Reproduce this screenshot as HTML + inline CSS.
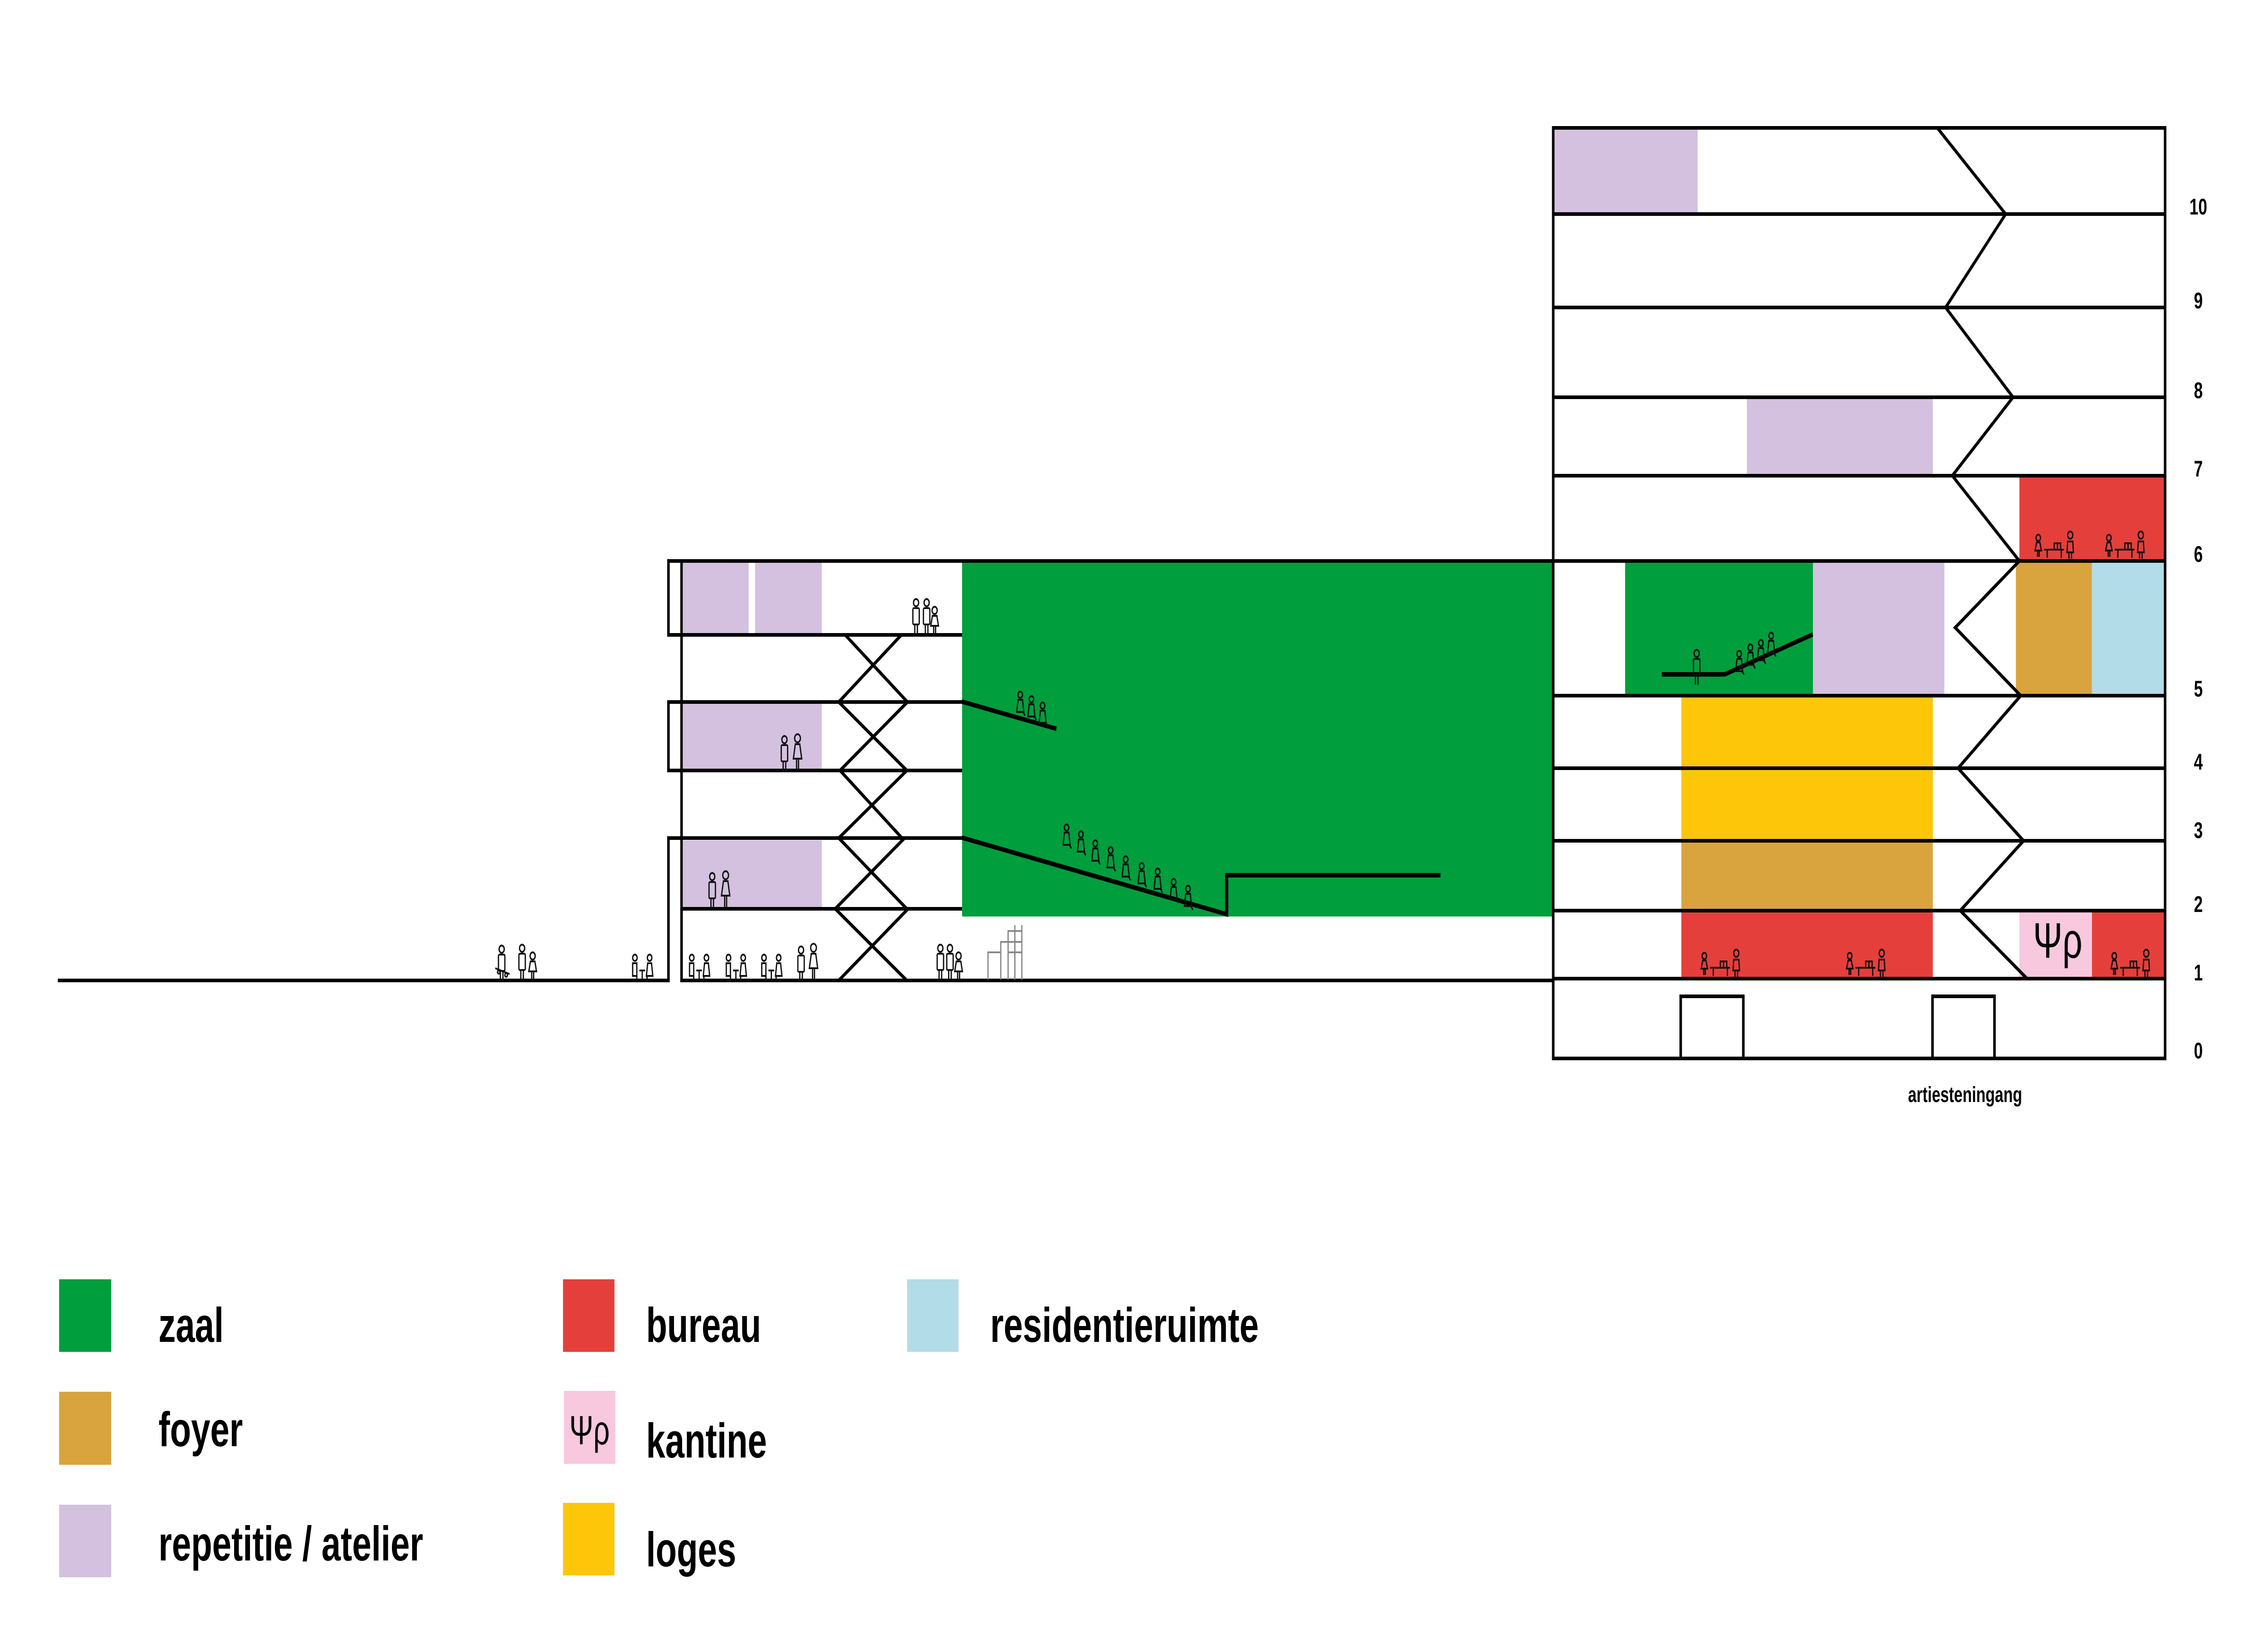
<!DOCTYPE html>
<html><head><meta charset="utf-8"><style>
html,body{margin:0;padding:0;background:#fff;width:100%;height:100%;overflow:hidden;}
svg{display:block;position:fixed;left:0;top:0;width:100vw;height:100vh;}
text{font-family:"Liberation Sans",sans-serif;font-weight:bold;fill:#000;}
</style></head><body>
<svg viewBox="0 0 7098 3623" preserveAspectRatio="none" xmlns="http://www.w3.org/2000/svg">
<defs>
<g id="stand" fill="none" stroke="#111" stroke-width="4">
<circle cx="15" cy="11" r="8"/><rect x="5" y="23" width="20" height="36" rx="3"/><line x1="11" y1="59" x2="11" y2="80"/><line x1="19" y1="59" x2="19" y2="80"/>
</g>
<g id="child" fill="none" stroke="#111" stroke-width="4">
<circle cx="15" cy="28" r="8"/><path d="M8 40 L22 40 L27 62 L3 62 Z"/><line x1="12" y1="62" x2="12" y2="80"/><line x1="18" y1="62" x2="18" y2="80"/>
</g>
<g id="woman" fill="none" stroke="#111" stroke-width="4">
<circle cx="16" cy="10" r="9"/><path d="M9 23 L23 23 L29 55 L3 55 Z"/><line x1="13" y1="55" x2="13" y2="80"/><line x1="19" y1="55" x2="19" y2="80"/>
</g>
<g id="seat" fill="none" stroke="#111" stroke-width="4">
<circle cx="13" cy="10" r="7"/><path d="M6 21 L20 21 L24 48 L2 48 Z"/><line x1="22" y1="48" x2="28" y2="56"/>
</g>
<g id="cafe" fill="none" stroke="#111" stroke-width="4">
<circle cx="10" cy="12" r="7"/><path d="M3 24 L16 24 L16 52 L3 52 Z"/><line x1="16" y1="52" x2="16" y2="62"/>
<line x1="24" y1="40" x2="42" y2="40"/><line x1="33" y1="40" x2="33" y2="62"/>
<circle cx="56" cy="12" r="7"/><path d="M50 24 L62 24 L66 52 L46 52 Z"/><line x1="48" y1="52" x2="48" y2="62"/>
</g>
<g id="office" fill="none" stroke="#111" stroke-width="4">
<circle cx="12" cy="18" r="7"/><path d="M7 28 L17 28 L22 46 L2 46 Z"/><line x1="10" y1="46" x2="10" y2="60"/><line x1="15" y1="46" x2="15" y2="60"/>
<line x1="30" y1="44" x2="92" y2="44"/><line x1="40" y1="44" x2="40" y2="62"/><line x1="84" y1="44" x2="84" y2="62"/>
<rect x="62" y="30" width="20" height="14"/><line x1="72" y1="30" x2="72" y2="44"/>
<circle cx="112" cy="12" r="8"/><path d="M104 26 L120 26 L122 50 L102 50 Z"/><line x1="108" y1="50" x2="108" y2="64"/><line x1="116" y1="50" x2="116" y2="64"/>
</g>
</defs>

<rect x="3011" y="1237" width="1848" height="784" fill="#009e3d"/>
<rect x="2138" y="1240" width="205" height="156" fill="#d3c1df"/>
<rect x="2363" y="1240" width="209" height="156" fill="#d3c1df"/>
<rect x="2138" y="1552" width="434" height="144" fill="#d3c1df"/>
<rect x="2138" y="1853" width="434" height="147" fill="#d3c1df"/>

<g stroke="#000" stroke-width="8" fill="none" stroke-linecap="butt">
<line x1="181" y1="2162" x2="2096" y2="2162"/>
<line x1="2129" y1="2162" x2="4861" y2="2162"/>
<polyline points="2092,2166 2092,1848 3011,1848"/>
<line x1="2133" y1="1237" x2="2133" y2="2166"/>
<polyline points="3011,1400 2092,1400 2092,1237 4861,1237"/>
<polyline points="3011,1548 2092,1548 2092,1699 3011,1699"/>
<line x1="2133" y1="2004" x2="3011" y2="2004"/>
<line x1="2645" y1="1400" x2="2840" y2="1548"/><line x1="2821" y1="1400" x2="2625" y2="1548"/>
<line x1="2625" y1="1548" x2="2838" y2="1699"/><line x1="2840" y1="1548" x2="2629" y2="1699"/>
<line x1="2629" y1="1699" x2="2823" y2="1848"/><line x1="2838" y1="1699" x2="2625" y2="1848"/>
<line x1="2625" y1="1848" x2="2838" y2="2004"/><line x1="2831" y1="1848" x2="2614" y2="2004"/>
<line x1="2614" y1="2004" x2="2838" y2="2162"/><line x1="2842" y1="2004" x2="2625" y2="2162"/>
<polyline stroke-width="10" points="3010,1547 3306,1607"/>
<polyline stroke-width="10" points="3010,1847 3839,2016 3839,1930 4508,1930"/>
</g>

<g stroke="#8a8a8a" stroke-width="4" fill="none">
<polyline points="3092,2160 3092,2100 3132,2100 3132,2160"/>
<polyline points="3132,2100 3132,2077 3155,2077 3155,2160"/>
<polyline points="3155,2077 3155,2053 3176,2053 3176,2160"/>
<line x1="3176" y1="2040" x2="3176" y2="2160"/><line x1="3198" y1="2040" x2="3198" y2="2160"/>
<line x1="3155" y1="2077" x2="3198" y2="2077"/><line x1="3155" y1="2100" x2="3198" y2="2100"/><line x1="3176" y1="2053" x2="3198" y2="2053"/>
</g>

<rect x="4861" y="282" width="452" height="190" fill="#d3c1df"/>
<rect x="5467" y="876" width="582" height="173" fill="#d3c1df"/>
<rect x="6320" y="1049" width="456" height="188" fill="#e53f3b"/>
<rect x="5086" y="1237" width="588" height="297" fill="#009e3d"/>
<rect x="5674" y="1237" width="411" height="297" fill="#d3c1df"/>
<rect x="6309" y="1237" width="238" height="297" fill="#d9a43e"/>
<rect x="6547" y="1237" width="229" height="297" fill="#b2dce8"/>
<rect x="5262" y="1534" width="787" height="320" fill="#fdc608"/>
<rect x="5262" y="1854" width="787" height="154" fill="#d9a43e"/>
<rect x="5262" y="2008" width="787" height="150" fill="#e53f3b"/>
<rect x="6320" y="2008" width="227" height="150" fill="#f7c8de"/>
<rect x="6547" y="2008" width="229" height="150" fill="#e53f3b"/>

<g stroke="#000" stroke-width="8" fill="none">
<rect x="4861" y="282" width="1915" height="2052"/>
<line x1="4861" y1="472" x2="6776" y2="472"/>
<line x1="4861" y1="678" x2="6776" y2="678"/>
<line x1="4861" y1="876" x2="6776" y2="876"/>
<line x1="4861" y1="1049" x2="6776" y2="1049"/>
<line x1="4861" y1="1237" x2="6776" y2="1237"/>
<line x1="4861" y1="1534" x2="6776" y2="1534"/>
<line x1="4861" y1="1694" x2="6776" y2="1694"/>
<line x1="4861" y1="1854" x2="6776" y2="1854"/>
<line x1="4861" y1="2008" x2="6776" y2="2008"/>
<line x1="4861" y1="2158" x2="6776" y2="2158"/>
<polyline points="6063,282 6277,472 6089,678 6300,876 6110,1049 6320,1237 6119,1384 6324,1534 6128,1694 6333,1854 6135,2008 6344,2158"/>
<polyline points="5260,2334 5260,2197 5456,2197 5456,2334"/>
<polyline points="6048,2334 6048,2197 6242,2197 6242,2334"/>
<polyline stroke-width="10" points="5201,1487 5398,1487 5673,1399"/>
</g>

<use href="#seat" x="3180" y="1522"/><use href="#seat" x="3215" y="1532"/><use href="#seat" x="3250" y="1546"/>
<use href="#seat" x="3325" y="1815"/><use href="#seat" x="3370" y="1830"/><use href="#seat" x="3415" y="1850"/><use href="#seat" x="3463" y="1865"/><use href="#seat" x="3510" y="1885"/><use href="#seat" x="3560" y="1900"/><use href="#seat" x="3610" y="1912"/><use href="#seat" x="3660" y="1935"/><use href="#seat" x="3705" y="1950"/>
<use href="#stand" x="5295" y="1430"/>
<use href="#seat" x="5430" y="1432"/><use href="#seat" x="5465" y="1418"/><use href="#seat" x="5498" y="1408"/><use href="#seat" x="5530" y="1392"/>
<use href="#stand" x="2852" y="1318"/><use href="#stand" x="2885" y="1318"/><use href="#child" x="2910" y="1318"/>
<use href="#stand" x="2440" y="1620"/><use href="#woman" x="2480" y="1618"/>
<use href="#stand" x="2214" y="1922"/><use href="#woman" x="2255" y="1920"/>
<use href="#cafe" x="2155" y="2100"/><use href="#cafe" x="2270" y="2100"/><use href="#cafe" x="2381" y="2100"/>
<use href="#stand" x="2492" y="2084"/><use href="#woman" x="2530" y="2080"/>
<use href="#stand" x="2928" y="2080"/><use href="#stand" x="2958" y="2080"/><use href="#child" x="2985" y="2080"/>
<use href="#stand" x="1555" y="2082"/>
<g stroke="#111" stroke-width="4" fill="none"><line x1="1550" y1="2135" x2="1595" y2="2148"/><circle cx="1561" cy="2143" r="4"/><circle cx="1584" cy="2150" r="4"/></g>
<use href="#stand" x="1619" y="2080"/><use href="#child" x="1652" y="2080"/>
<use href="#cafe" x="1977" y="2100"/>
<use href="#office" x="5322" y="2090"/><use href="#office" x="5777" y="2090"/>
<use href="#office" x="6367" y="1168"/><use href="#office" x="6588" y="1168"/>
<use href="#office" x="6605" y="2090"/>
<text x="6440" y="2112" font-size="110" text-anchor="middle" style="font-weight:normal">Ψρ</text>

<g font-size="50" text-anchor="middle">
<text x="6880" y="473">10</text><text x="6880" y="680">9</text><text x="6880" y="878">8</text><text x="6880" y="1051">7</text><text x="6880" y="1239">6</text><text x="6880" y="1536">5</text><text x="6880" y="1697">4</text><text x="6880" y="1848">3</text><text x="6880" y="2011">2</text><text x="6880" y="2162">1</text><text x="6880" y="2334">0</text>
</g>
<text x="6150" y="2430" font-size="48" text-anchor="middle">artiesteningang</text>

<rect x="185" y="2821" width="163" height="160" fill="#009e3d"/>
<rect x="185" y="3069" width="163" height="161" fill="#d9a43e"/>
<rect x="185" y="3318" width="163" height="160" fill="#d3c1df"/>
<rect x="1762" y="2821" width="161" height="160" fill="#e53f3b"/>
<rect x="1765" y="3067" width="161" height="161" fill="#f7c8de"/>
<rect x="1762" y="3314" width="161" height="160" fill="#fdc608"/>
<rect x="2839" y="2821" width="161" height="160" fill="#b2dce8"/>
<text x="1845" y="3185" font-size="90" text-anchor="middle" style="font-weight:normal">Ψρ</text>
<g font-size="108">
<text x="496" y="2959">zaal</text>
<text x="496" y="3189">foyer</text>
<text x="496" y="3441">repetitie / atelier</text>
<text x="2022" y="2959">bureau</text>
<text x="2022" y="3214">kantine</text>
<text x="2022" y="3454">loges</text>
<text x="3099" y="2959">residentieruimte</text>
</g>
</svg>
</body></html>
